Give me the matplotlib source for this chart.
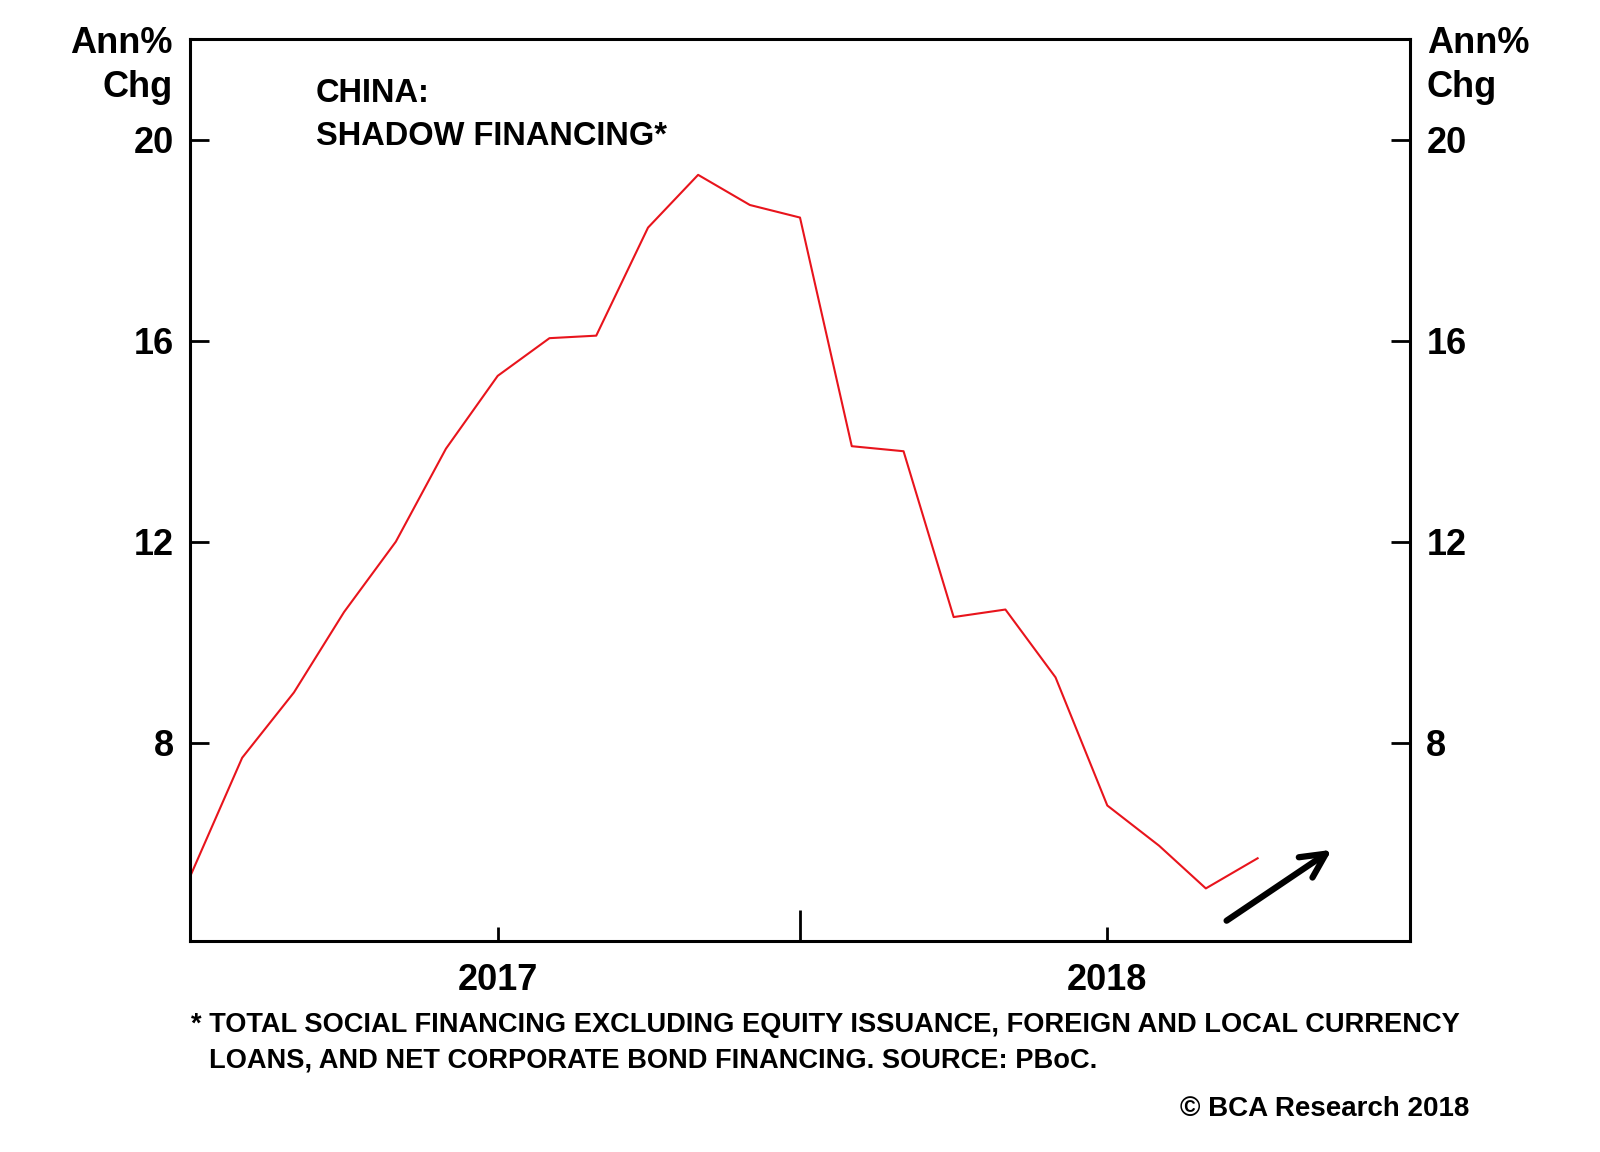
import numpy as np
import pandas as pd
import matplotlib
matplotlib.use("Agg")
import matplotlib.pyplot as plt

plt.rcParams['font.family'] = ['Liberation Sans', 'DejaVu Sans']
plt.rcParams['font.weight'] = 'bold'

# monthly shadow financing growth, Jul 2016 - Apr 2018
months = pd.date_range("2016-07-01", "2018-04-01", freq="MS")
shadow = [5.35, 7.7, 9.0, 10.6, 12.0, 13.85, 15.3, 16.05, 16.1, 18.25, 19.3, 18.7,
          18.45, 13.9, 13.8, 10.5, 10.65, 9.3, 6.75, 5.95, 5.1, 5.7]
yticks = [8, 12, 16, 20]
year_ticks = pd.to_datetime(["2017-01-01", "2018-01-01"])
year_labels = ["2017", "2018"]
mid_ticks = pd.to_datetime(["2017-07-01"])

fig = plt.figure(figsize=(16, 11.52), dpi=100)
ax = fig.add_axes([0.119, 0.183, 0.762, 0.783])

ax.plot(months, shadow, color="#e8141c", lw=1.5)

ax.set_xlim(pd.Timestamp("2016-07-01"), pd.Timestamp("2018-07-01"))
ax.set_ylim(4.05, 22.0)

ax.set_yticks(yticks)
ax.set_yticklabels([str(t) for t in yticks])
ax.tick_params(axis="y", direction="in", length=14, width=2, labelsize=26,
               pad=12, left=True, right=True, labelleft=True, labelright=True)

ax.set_xticks(year_ticks)
ax.set_xticklabels(year_labels)
ax.set_xticks(mid_ticks, minor=True)
ax.tick_params(axis="x", which="major", direction="in", length=10, width=2,
               labelsize=26, pad=16)
ax.tick_params(axis="x", which="minor", direction="in", length=22, width=2)

for s in ax.spines.values():
    s.set_linewidth(2.2)

ax.text(0.103, 0.957, "CHINA:\nSHADOW FINANCING*", transform=ax.transAxes,
        fontsize=23.5, va="top", ha="left", linespacing=1.5)

fig.text(173 / 1600, 1 - 26 / 1152, "Ann%\nChg", fontsize=26, ha="right", va="top",
         linespacing=1.35)
fig.text(1427 / 1600, 1 - 26 / 1152, "Ann%\nChg", fontsize=26, ha="left", va="top",
         linespacing=1.35)

# arrow hinting at the turn
ax.annotate("", xy=(0.938, 0.103), xytext=(0.848, 0.021), xycoords="axes fraction",
            arrowprops=dict(arrowstyle="->", lw=4.5, color="black", mutation_scale=44))

fig.text(191 / 1600, 1 - 1025 / 1152,
         "* TOTAL SOCIAL FINANCING EXCLUDING EQUITY ISSUANCE, FOREIGN AND LOCAL CURRENCY",
         fontsize=19.6, ha="left", va="center")
fig.text(209 / 1600, 1 - 1061 / 1152,
         "LOANS, AND NET CORPORATE BOND FINANCING. SOURCE: PBoC.",
         fontsize=19.6, ha="left", va="center")
fig.text(1469 / 1600, 1 - 1109 / 1152, "\u00a9 BCA Research 2018",
         fontsize=20, ha="right", va="center")

fig.savefig("out.png", dpi=100)
